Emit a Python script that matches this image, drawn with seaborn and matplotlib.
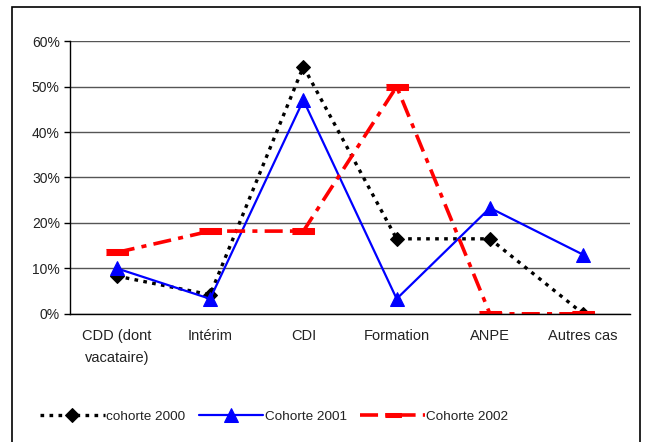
import numpy as np
import pandas as pd
import matplotlib.pyplot as plt
import seaborn as sns
from matplotlib.patches import Rectangle

# Données
categories = ["CDD (dont\nvacataire)", "Intérim", "CDI", "Formation", "ANPE", "Autres cas"]
cohorte_2000 = [0.083, 0.042, 0.544, 0.165, 0.165, 0.0]
cohorte_2001 = [0.10, 0.033, 0.47, 0.033, 0.233, 0.13]
cohorte_2002 = [0.135, 0.182, 0.182, 0.50, 0.0, 0.0]

sns.set_style("white")
plt.rcParams["font.family"] = ["Liberation Sans", "DejaVu Sans"]
plt.rcParams["text.color"] = "#222222"

fig = plt.figure(figsize=(6.5, 4.42), dpi=100)
ax = fig.add_axes([0.108, 0.29, 0.861, 0.617])

x = np.arange(len(categories))
bar = [(-2, -0.5), (2, -0.5), (2, 0.5), (-2, 0.5)]

sns.lineplot(x=x, y=cohorte_2000, ax=ax, color="black", lw=2.4,
             linestyle=(0, (1.1, 1.6)), marker="D", markersize=7.5,
             markeredgecolor="black", label="cohorte 2000")
sns.lineplot(x=x, y=cohorte_2001, ax=ax, color="#0000ff", lw=1.6,
             marker="^", markersize=10, markeredgecolor="#0000ff",
             label="Cohorte 2001")
sns.lineplot(x=x, y=cohorte_2002, ax=ax, color="#ff0000", lw=2.6,
             linestyle=(0, (5, 2, 1.4, 2)), marker=bar, markersize=16,
             markeredgecolor="#ff0000", label="Cohorte 2002")

ax.set_xlim(-0.5, len(categories) - 0.5)
ax.set_ylim(0, 0.6)
ax.set_yticks(np.arange(0, 0.61, 0.1))
ax.set_yticklabels([f"{int(round(v * 100))}%" for v in np.arange(0, 0.61, 0.1)])
ax.set_xticks(x)
ax.set_xticklabels(categories, linespacing=1.75)
ax.set_xticks(np.arange(-0.5, len(categories)), minor=True)
ax.tick_params(axis="x", which="major", length=0, pad=11, labelsize=10.5,
               labelcolor="#222222")
ax.tick_params(axis="x", which="minor", length=4, width=1, color="black", direction="out")
ax.tick_params(axis="y", length=4, width=1, color="black", direction="out",
               left=True, labelsize=10, labelcolor="#222222")
ax.yaxis.grid(True, color="#555555", lw=1)
ax.set_axisbelow(True)
for s in ["top", "right"]:
    ax.spines[s].set_visible(False)
for s in ["left", "bottom"]:
    ax.spines[s].set_color("black")
    ax.spines[s].set_linewidth(1)

leg = ax.legend(loc="center left", bbox_to_anchor=(28 / 650, 0.057),
                bbox_transform=fig.transFigure, ncol=3, frameon=False,
                handlelength=4.8, columnspacing=1.0, handletextpad=0.1,
                fontsize=9.7)
for h in leg.legend_handles:
    if h.get_color() == "#ff0000":
        h.set_markersize(11)

# cadre extérieur
fig.patches.append(Rectangle((12 / 650, -0.01), 628 / 650, 1 - 7 / 442 + 0.01,
                             transform=fig.transFigure, fill=False,
                             edgecolor="black", lw=1.2))

fig.savefig("out.png", dpi=100)
